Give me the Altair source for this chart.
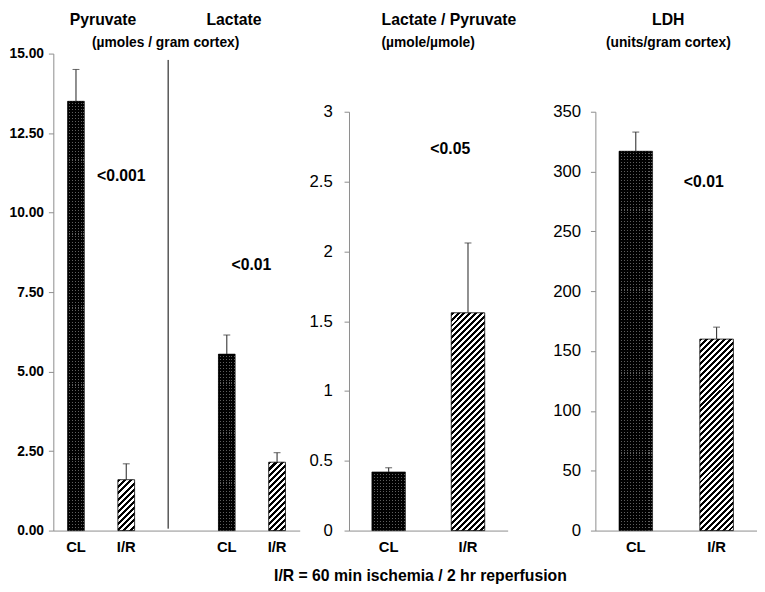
import altair as alt
import pandas as pd

# ---------------- data ----------------
groups = ["CL", "I/R"]
pyruvate_mean = [13.5, 1.6]
pyruvate_err = [1.0, 0.5]
lactate_mean = [5.55, 2.15]
lactate_err = [0.6, 0.3]
ratio_mean = [0.42, 1.56]
ratio_err = [0.03, 0.5]
ldh_mean = [317, 160]
ldh_err = [16, 10]

p_text = ["<0.001", "<0.01", "<0.05", "<0.01"]
p_y = [11.15, 8.35, 2.73, 291]

separator_span = [0.06, 14.8]

caption = "I/R = 60 min ischemia / 2 hr reperfusion"

# ---------------- style ----------------
FONT = "Liberation Sans"
AXC = "#8c8c8c"
NB = "\u00a0"
CLEAR = "rgba(0,0,0,0)"
H = 484          # common plot height
H_SMALL = 425    # axis length of the two right panels


def keyname(prefix, g):
    return prefix + "_" + ("CL" if g == "CL" else "IR")


def frame(prefix, means, errs):
    return pd.DataFrame({
        "key": [keyname(prefix, g) for g in groups],
        "grp": groups,
        "mean": means,
        "err": errs,
    })


def stripes(n, frac_on, c_on, c_off):
    stops = []
    for i in range(n):
        a = i / n
        b = (i + frac_on) / n
        c = (i + 1) / n
        stops += [
            {"offset": a, "color": c_on},
            {"offset": b, "color": c_on},
            {"offset": b, "color": c_off},
            {"offset": c, "color": c_off},
        ]
    return stops


def hatch(w, h, period=6.0):
    k = (w + h) / (w * w + h * h)
    n = max(1, round((w + h) / period))
    return {"gradient": "linear", "x1": 0, "y1": 0, "x2": w * k, "y2": h * k,
            "stops": stripes(n, 0.5, "#000000", "#ffffff")}


def dot_rows(h, period=3.0):
    n = max(1, round(h / period))
    return {"gradient": "linear", "x1": 0, "y1": 0, "x2": 0, "y2": 1,
            "stops": stripes(n, 0.65, CLEAR, "#5e5e5e")}


def dot_cols(w, period=3.0):
    n = max(1, round(w / period))
    return {"gradient": "linear", "x1": 0, "y1": 0, "x2": 1, "y2": 0,
            "stops": stripes(n, 0.65, "#000000", CLEAR)}


LABEL_EXPR = ("split(datum.value, '_')[1] == 'IR' ? 'I/R' : "
              "(split(datum.value, '_')[1] == 'CL' ? 'CL' : '')")


def xenc(domain, pi, po, band_pos=None):
    kw = {}
    if band_pos is not None:
        kw["bandPosition"] = band_pos
    return alt.X(
        "key:N",
        scale=alt.Scale(domain=domain, paddingInner=pi, paddingOuter=po),
        axis=alt.Axis(title=None, labelExpr=LABEL_EXPR, ticks=False, tickSize=0,
                      labelAngle=0, labelFont=FONT, labelFontSize=15,
                      labelFontWeight="bold", labelColor="black", labelPadding=9,
                      domainColor=AXC, domainWidth=1),
        **kw,
    )


def yenc(field, ymax, axis_len, values, fmt, bold, size, pad):
    return alt.Y(
        f"{field}:Q",
        scale=alt.Scale(domain=[0, ymax], nice=False, zero=True, range=[H, H - axis_len]),
        axis=alt.Axis(title=None, values=values, format=fmt, grid=False,
                      ticks=True, tickSize=5, tickColor=AXC, domainColor=AXC,
                      labelFont=FONT, labelFontSize=size,
                      labelFontWeight="bold" if bold else "normal",
                      labelColor="black", labelPadding=pad),
    )


def bar_layers(df, X, Yf, ymax, axis_len, bw):
    layers = []
    for _, row in df.iterrows():
        one = alt.Chart(pd.DataFrame([row]))
        h = row["mean"] / ymax * axis_len
        if row["grp"] == "CL":
            layers.append(one.mark_bar(fill="#000000", stroke="#000000", strokeWidth=0.6)
                          .encode(x=X, y=Yf("mean")))
            layers.append(one.mark_bar(fill=dot_rows(h), strokeWidth=0)
                          .encode(x=X, y=Yf("mean")))
            layers.append(one.mark_bar(fill=dot_cols(bw), strokeWidth=0)
                          .encode(x=X, y=Yf("mean")))
        else:
            layers.append(one.mark_bar(fill=hatch(bw, h), stroke="#000000", strokeWidth=0.8)
                          .encode(x=X, y=Yf("mean")))
    eb = alt.Chart(df).transform_calculate(top="datum.mean + datum.err")
    layers.append(eb.mark_rule(color="#333333", strokeWidth=1.1)
                  .encode(x=X, y=Yf("mean"), y2="top:Q"))
    layers.append(eb.mark_tick(color="#333333", size=7, thickness=1.1)
                  .encode(x=X, y=Yf("top")))
    return layers


def ptext(key, y, txt, X, Yf, dx):
    d = pd.DataFrame({"key": [key], "y": [y], "t": [txt]})
    return (alt.Chart(d).mark_text(font=FONT, fontSize=16, fontWeight="bold", color="black",
                                   align="center", baseline="middle", dx=dx)
            .encode(x=X, y=Yf("y"), text="t:N"))


def title(text, sub, anchor, dx, offset):
    return alt.TitleParams(text=text, subtitle=sub, anchor=anchor, frame="group", dx=dx,
                           offset=offset, font=FONT, fontSize=16, fontWeight="bold",
                           color="black", subtitleFont=FONT, subtitleFontSize=14,
                           subtitleFontWeight="bold", subtitleColor="black",
                           subtitlePadding=8)


# ---------------- panel 1: pyruvate + lactate ----------------
W1, Y1 = 250, 15
dom1 = ["P_CL", "P_IR", "S_SEP", "L_CL", "L_IR"]
df1 = pd.concat([frame("P", pyruvate_mean, pyruvate_err),
                 frame("L", lactate_mean, lactate_err)], ignore_index=True)
X1 = xenc(dom1, 0.667, 0.284)
Y1f = lambda f: yenc(f, Y1, H, [0, 2.5, 5, 7.5, 10, 12.5, 15], ".2f", True, 14, 5)
sep_df = pd.DataFrame({"key": ["S_SEP"], "y0": [separator_span[0]], "y1": [separator_span[1]]})
sep = (alt.Chart(sep_df).mark_rule(color="#000000", strokeWidth=1)
       .encode(x=xenc(dom1, 0.667, 0.284, band_pos=0), y=Y1f("y0"), y2="y1:Q"))
p1 = alt.layer(
    *bar_layers(df1, X1, Y1f, Y1, H, 17),
    sep,
    ptext("P_IR", p_y[0], p_text[0], X1, Y1f, -5),
    ptext("L_CL", p_y[1], p_text[1], X1, Y1f, 25),
).properties(width=W1, height=H,
             title=title("Pyruvate" + NB * 16 + "Lactate", "(µmoles / gram cortex)",
                         "middle", -11, -3))

# ---------------- panel 2: lactate / pyruvate ----------------
W2, Y2 = 161, 3
dom2 = ["R_CL", "R_IR"]
df2 = frame("R", ratio_mean, ratio_err)
X2 = xenc(dom2, 0.578, 0.289)
Y2f = lambda f: yenc(f, Y2, H_SMALL, [0, 0.5, 1, 1.5, 2, 2.5, 3], "~g", False, 17, 12)
p2 = alt.layer(
    *bar_layers(df2, X2, Y2f, Y2, H_SMALL, 34),
    ptext("R_IR", p_y[2], p_text[2], X2, Y2f, -18),
).properties(width=W2, height=H,
             title=title("Lactate / Pyruvate", "(µmole/µmole)", "start", 33, 4))

# ---------------- panel 3: LDH ----------------
W3, Y3 = 164, 350
dom3 = ["D_CL", "D_IR"]
df3 = frame("D", ldh_mean, ldh_err)
X3 = xenc(dom3, 0.585, 0.2925)
Y3f = lambda f: yenc(f, Y3, H_SMALL, [0, 50, 100, 150, 200, 250, 300, 350], "d", False, 17, 10)
p3 = alt.layer(
    *bar_layers(df3, X3, Y3f, Y3, H_SMALL, 34),
    ptext("D_IR", p_y[3], p_text[3], X3, Y3f, -13),
).properties(width=W3, height=H,
             title=title("LDH", "(units/gram cortex)", "middle", -8, 4))

right = alt.hconcat(p2, p3, spacing=36)
chart = (alt.hconcat(p1, right, spacing=9)
         .properties(
             title=alt.TitleParams(text=caption, orient="bottom", anchor="middle", dx=38,
                                   offset=14, font=FONT, fontSize=16, fontWeight="bold",
                                   color="black"),
             padding={"left": 0, "top": 0, "right": 0, "bottom": 0})
         .configure_view(stroke=None))

chart.save("out.html", embed_options={"renderer": "svg", "actions": False})
